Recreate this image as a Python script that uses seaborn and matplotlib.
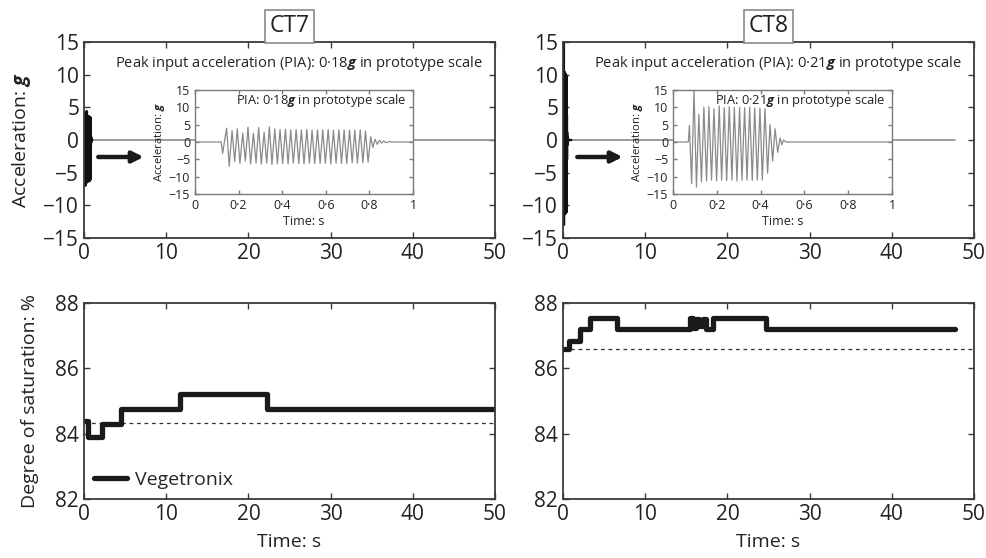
import matplotlib
matplotlib.use('Agg')
import numpy as np
import pandas as pd
import matplotlib.pyplot as plt
import seaborn as sns

# ---- acceleration record, extrema (time: s, acceleration: g)
ct7_acc_t = [0.0, 0.120, 0.127, 0.136,
             0.145, 0.157, 0.170, 0.182, 0.194, 0.206, 0.219, 0.231, 0.243, 0.255,
             0.268, 0.280, 0.292, 0.304, 0.317, 0.329, 0.341, 0.353, 0.366, 0.378,
             0.390, 0.402, 0.415, 0.427, 0.439, 0.451, 0.464, 0.476, 0.488, 0.500,
             0.513, 0.525, 0.537, 0.549, 0.562, 0.574, 0.586, 0.598, 0.611, 0.623,
             0.635, 0.647, 0.660, 0.672, 0.684, 0.696, 0.709, 0.721, 0.733, 0.745,
             0.758, 0.770, 0.782, 0.794,
             0.806, 0.816, 0.826, 0.836, 0.846, 0.856, 0.866, 0.876, 0.890, 0.920, 1.0]
ct7_acc_g = [0.0, 0.0, -3.3, 0.5,
             4.0, -7.0, 3.3, -5.6, 3.8, -6.2, 2.6, -5.5, 4.3, -6.3,
             2.5, -6.0, 4.2, -6.4, 2.8, -6.1, 4.4, -6.5, 3.8, -6.3,
             3.6, -6.2, 3.7, -6.3, 3.5, -6.1, 3.6, -6.2, 3.5, -6.3,
             3.6, -6.1, 3.4, -6.2, 3.5, -6.2, 3.5, -6.1, 3.6, -6.3,
             3.4, -6.1, 3.5, -6.2, 3.5, -6.2, 3.4, -6.0, 3.4, -6.1,
             3.5, -6.0, 3.2, -5.8,
             1.5, -1.6, 0.8, -0.7, 0.5, -0.3, 0.3, -0.2, 0.1, 0.0, 0.0]

ct8_acc_t = [0.0, 0.070,
             0.075, 0.085, 0.096, 0.107, 0.118, 0.130, 0.141, 0.153, 0.164, 0.176,
             0.187, 0.199, 0.211, 0.222, 0.234, 0.245, 0.257, 0.269, 0.280, 0.292,
             0.304, 0.315, 0.327, 0.338, 0.350, 0.362, 0.373, 0.385, 0.397, 0.408,
             0.420, 0.432, 0.443, 0.455, 0.466, 0.478, 0.489, 0.497,
             0.505, 0.515, 1.0]
ct8_acc_g = [0.0, 0.0,
             4.8, -12.0, 15.0, -13.0, 8.0, -11.5, 10.0, -11.2, 10.2, -11.0,
             9.6, -11.2, 10.4, -11.0, 9.9, -11.1, 10.2, -11.0, 10.0, -11.2,
             10.0, -11.0, 9.9, -11.0, 10.0, -11.1, 9.8, -11.0, 9.8, -11.0,
             9.6, -9.0, 5.0, -5.5, 3.8, -3.0, 1.2, -0.8,
             0.6, 0.0, 0.0]

# rest of each record stays at zero
ct7_tail_t = [1.0, 50.0]
ct8_tail_t = [1.0, 47.7]
tail_g = [0.0, 0.0]

# ---- degree of saturation (step changes)
ct7_sat_t = [0.0, 0.45, 2.15, 4.45, 11.7, 22.3, 50.0]
ct7_sat_v = [84.4, 83.9, 84.3, 84.75, 85.2, 84.75, 84.75]
ct8_sat_t = [0.0, 0.75, 2.1, 3.3, 6.6, 15.4, 15.8, 16.2, 16.6, 17.0, 17.4, 18.3, 24.7, 47.7]
ct8_sat_v = [86.6, 86.85, 87.2, 87.55, 87.2, 87.55, 87.25, 87.5, 87.3, 87.5, 87.2, 87.55, 87.2, 87.2]
ct7_init = 84.33
ct8_init = 86.58

panels = ['CT7', 'CT8']
pia = ['0·18', '0·21']

sns.set_style('ticks')
plt.rcParams['font.family'] = ['Open Sans', 'DejaVu Sans']
plt.rcParams['mathtext.fontset'] = 'custom'
plt.rcParams['mathtext.rm'] = 'Open Sans'
plt.rcParams['mathtext.bfit'] = 'Open Sans:italic:bold'

SPINE = '#3a3a3a'
TXT = '#222222'


def style(ax, size, color=SPINE, lw=1.3, length=4):
    for s in ax.spines.values():
        s.set_visible(True)
        s.set_color(color)
        s.set_linewidth(lw)
    ax.tick_params(direction='in', top=True, right=True, length=length,
                   width=1, color=color, labelsize=size, labelcolor=TXT)


fig = plt.figure(figsize=(9.86, 5.58), dpi=100)
W, H = 986, 558


def px_axes(x0, y0, x1, y1):
    return fig.add_axes([x0 / W, 1 - y1 / H, (x1 - x0) / W, (y1 - y0) / H])


lefts = [84, 563]
acc = [(ct7_acc_t, ct7_acc_g, ct7_tail_t), (ct8_acc_t, ct8_acc_g, ct8_tail_t)]
sat = [(ct7_sat_t, ct7_sat_v, ct7_init), (ct8_sat_t, ct8_sat_v, ct8_init)]
inset_x = [(195, 413), (673, 892)]

for i in range(2):
    t, g, tail = acc[i]
    # top: acceleration
    ax = px_axes(lefts[i], 42, lefts[i] + 411, 238)
    sns.lineplot(x=tail, y=tail_g, ax=ax, color='#8c8c8c', lw=1.2)
    sns.lineplot(x=t, y=g, ax=ax, color='#111111', lw=1.8)
    ax.set_xlim(0, 50)
    ax.set_ylim(-15, 15)
    ax.set_xticks(range(0, 51, 10))
    ax.set_yticks(range(-15, 16, 5))
    style(ax, 15)
    ax.set_xlabel('')
    if i == 0:
        ax.set_ylabel(r'Acceleration: $\mathbfit{g}$', fontsize=14, color=TXT)
        ax.yaxis.set_label_coords(-0.125, 0.5)
    ax.set_title(panels[i], fontsize=16.5, color=TXT, pad=7,
                 bbox=dict(boxstyle='square,pad=0.2', fc='white', ec='#8a8a8a', lw=1.2))
    ax.text(0.972, 0.89, 'Peak input acceleration (PIA): ' + pia[i] + r'$\mathbfit{g}$ in prototype scale',
            transform=ax.transAxes, ha='right', va='center', fontsize=10.6, color=TXT)
    ax.annotate('', xy=(7.6, -2.6), xytext=(1.4, -2.6),
                arrowprops=dict(arrowstyle='-|>', lw=3.2, color='#1a1a1a', mutation_scale=16))

    # inset
    ix0, ix1 = inset_x[i]
    ins = px_axes(ix0, 90, ix1, 194)
    sns.lineplot(x=t, y=g, ax=ins, color='#8a8a8a', lw=0.9)
    ins.set_xlim(0, 1)
    ins.set_ylim(-15, 15)
    ins.set_xticks([0, 0.2, 0.4, 0.6, 0.8, 1])
    ins.set_xticklabels(['0', '0·2', '0·4', '0·6', '0·8', '1'])
    ins.set_yticks(range(-15, 16, 5))
    style(ins, 9, color='#7a7a7a', lw=1.0, length=3)
    ins.set_xlabel('Time: s', fontsize=9, color=TXT, labelpad=2)
    ins.set_ylabel(r'Acceleration: $\mathbfit{g}$', fontsize=8.2, color=TXT, labelpad=1)
    ins.text(0.968, 0.9, 'PIA: ' + pia[i] + r'$\mathbfit{g}$ in prototype scale',
             transform=ins.transAxes, ha='right', va='center', fontsize=9.3, color=TXT)

    # bottom: degree of saturation
    st, sv, init = sat[i]
    bx = px_axes(lefts[i], 303, lefts[i] + 411, 499)
    sns.lineplot(x=[0, 50], y=[init, init], ax=bx, color='#333333', lw=0.9, linestyle=(0, (3, 3)))
    sns.lineplot(x=st, y=sv, ax=bx, color='#1a1a1a', lw=3.8, drawstyle='steps-post',
                 label='Vegetronix' if i == 0 else None)
    bx.set_xlim(0, 50)
    bx.set_ylim(82, 88)
    bx.set_xticks(range(0, 51, 10))
    bx.set_yticks([82, 84, 86, 88])
    style(bx, 15)
    bx.set_xlabel('Time: s', fontsize=14, color=TXT, labelpad=6)
    if i == 0:
        bx.set_ylabel('Degree of saturation: %', fontsize=14, color=TXT)
        bx.yaxis.set_label_coords(-0.11, 0.5)
        bx.legend(loc='lower left', frameon=False, fontsize=14, handlelength=1.7,
                  borderaxespad=0.1, handletextpad=0.4)

fig.savefig('out.png', dpi=100)
